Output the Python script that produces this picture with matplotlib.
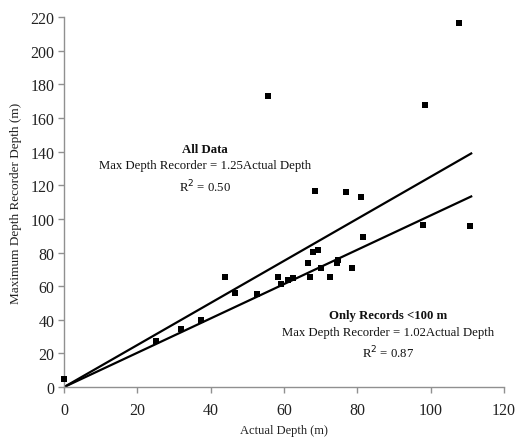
import matplotlib
matplotlib.use("Agg")
import matplotlib.pyplot as plt
import numpy as np

# data
actual_depth = [0.0, 25.1, 32.0, 37.3, 44.0, 46.6, 52.6, 55.6, 58.5, 59.2,
                61.0, 62.5, 66.5, 67.0, 68.0, 68.5, 69.2, 70.1, 72.5, 74.4,
                74.7, 76.9, 78.7, 81.0, 81.7, 97.9, 98.5, 107.8, 110.8]
recorder_depth = [5.0, 27.4, 34.4, 40.1, 65.3, 56.0, 55.4, 173.2, 65.7, 61.0,
                  63.5, 64.7, 73.7, 65.5, 80.4, 116.6, 81.2, 70.7, 65.3, 73.7,
                  75.3, 116.2, 70.7, 113.2, 89.4, 96.5, 167.8, 216.2, 95.7]
slope_all = 1.25
slope_lt100 = 1.02
fit_range = [0.0, 111.1]

plt.rcParams["font.family"] = ["Liberation Serif", "DejaVu Serif"]

fig = plt.figure(figsize=(5.27, 4.39), dpi=100)
ax = fig.add_axes([0.1215, 0.116, 0.8345, 0.843])

ax.scatter(actual_depth, recorder_depth, marker="s", s=15, color="black", zorder=3,
           linewidths=0, clip_on=False)
xs = np.array(fit_range)
ax.plot(xs, slope_all * xs, color="black", lw=1.6)
ax.plot(xs, slope_lt100 * xs, color="black", lw=1.6)

ax.set_xlim(0, 120)
ax.set_ylim(0, 220)
ax.set_xticks(range(0, 121, 20))
ax.set_yticks(range(0, 221, 20))

for side in ["top", "right"]:
    ax.spines[side].set_visible(False)
for side in ["left", "bottom"]:
    ax.spines[side].set_color("#909090")
    ax.spines[side].set_linewidth(1.0)
ax.tick_params(axis="both", direction="out", length=4, width=1.0, color="#909090",
               labelsize=11.5, labelcolor="#222222")
ax.tick_params(axis="x", pad=7)
ax.tick_params(axis="y", pad=3)

ax.set_xlabel("Actual Depth (m)", fontsize=9, color="#222222", labelpad=4)
ax.set_ylabel("Maximum Depth Recorder Depth (m)", fontsize=9.5, color="#222222", labelpad=6)

ann = dict(ha="center", va="center", fontsize=9.2, color="#111111")
ax.text(38.5, 141.8, "All Data", fontweight="bold", **ann)
ax.text(38.5, 132.0, "Max Depth Recorder = 1.25Actual Depth", **ann)
ax.text(38.5, 119.7, "R$^2$ = 0.50", **ann)

ax.text(88.4, 42.7, "Only Records <100 m", fontweight="bold", **ann)
ax.text(88.4, 32.8, "Max Depth Recorder = 1.02Actual Depth", **ann)
ax.text(88.4, 20.9, "R$^2$ = 0.87", **ann)

fig.savefig("out.png", dpi=100)
